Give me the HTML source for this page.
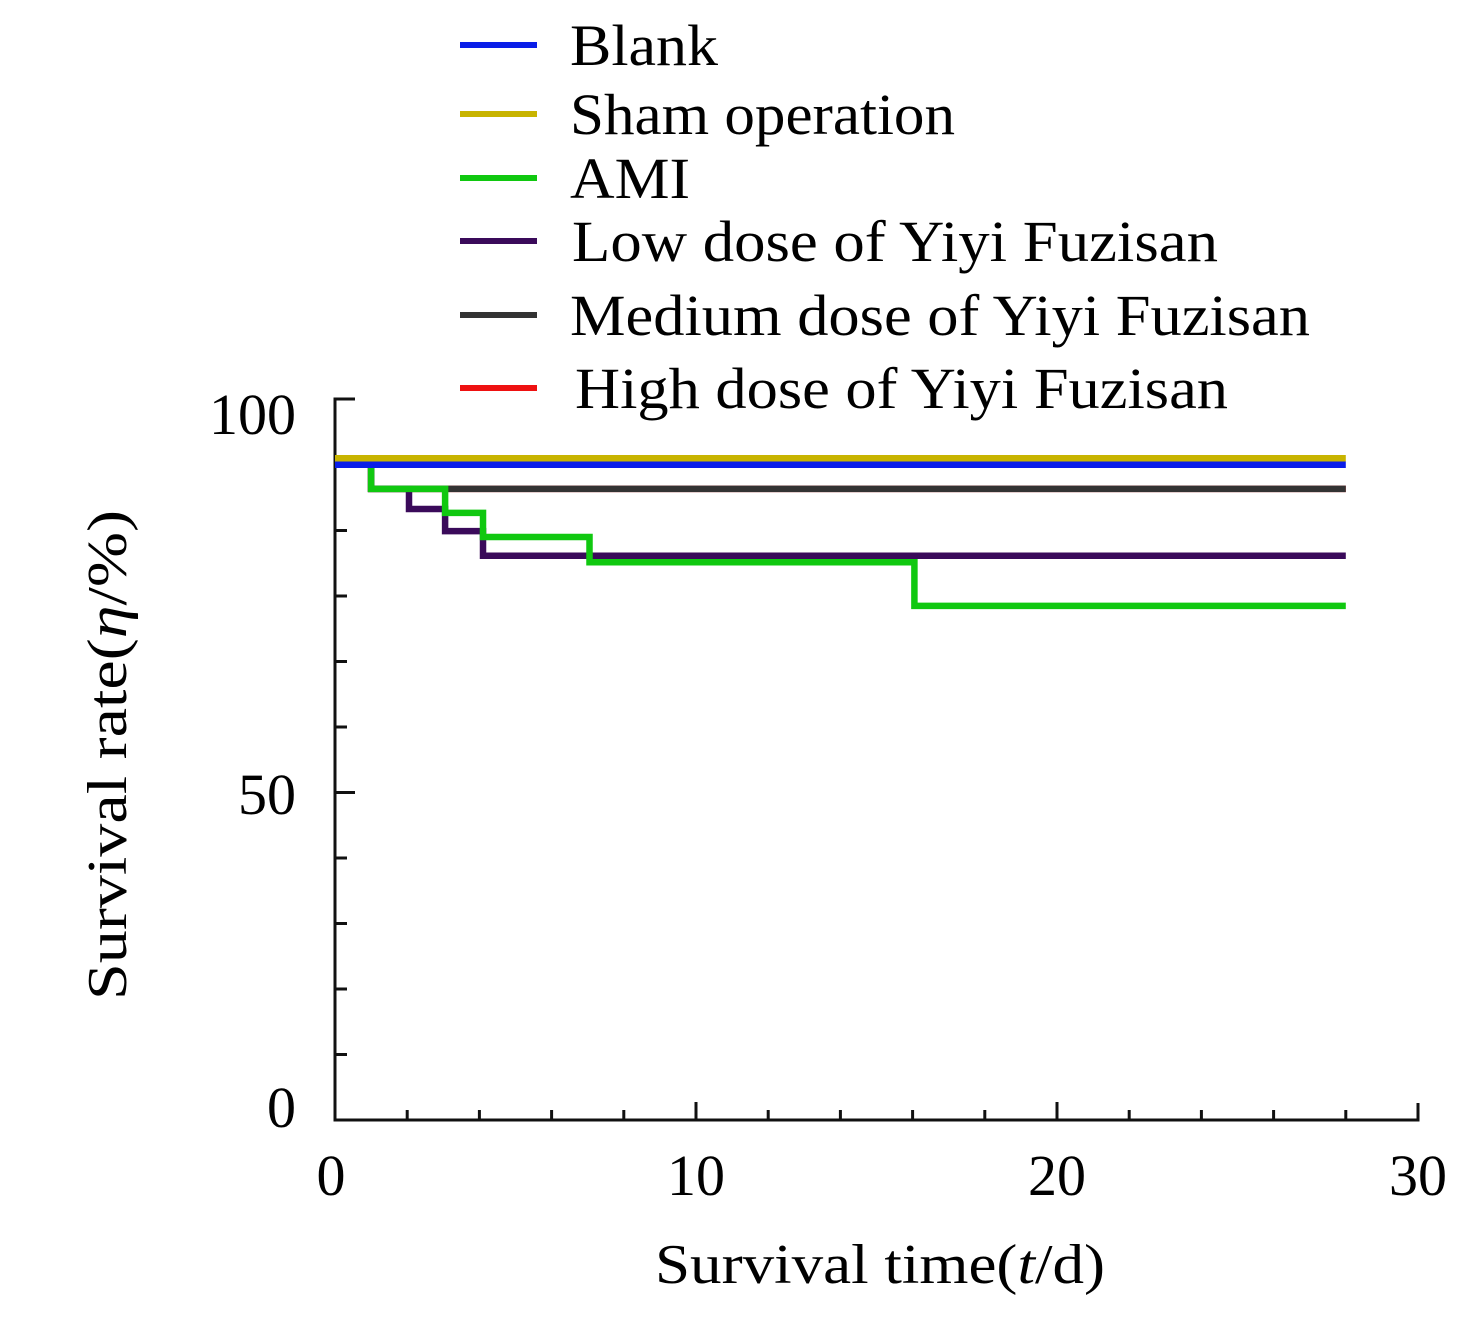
<!DOCTYPE html>
<html><head><meta charset="utf-8"><style>
body{margin:0;background:#fff}
svg{display:block;font-family:"Liberation Serif",serif}
</style></head><body>
<svg id="chart" width="1481" height="1323" viewBox="0 0 1481 1323" xmlns="http://www.w3.org/2000/svg">
<g id="legend"></g>
<g id="axes"></g>
<g id="series"></g>
<text transform="translate(126,755) rotate(-90)" text-anchor="middle" font-size="56" textLength="490" lengthAdjust="spacingAndGlyphs">Survival rate(<tspan font-style="italic">η</tspan>/%)</text>
<text x="880" y="1283" text-anchor="middle" font-size="56" textLength="450" lengthAdjust="spacingAndGlyphs">Survival time(<tspan font-style="italic">t</tspan>/d)</text>
</svg>
<script>
const seriesNames=["Blank","Sham operation","AMI","Low dose of Yiyi Fuzisan","Medium dose of Yiyi Fuzisan","High dose of Yiyi Fuzisan"];
const seriesColors=["#0a1ee8","#c8b400","#10c810","#3a0a5a","#333333","#ee1111"];
const blankT=[0,28], blankV=[100.8,100.8];
const shamT=[0,28], shamV=[101.8,101.8];
const amiT=[0,1,3.05,4.1,7.05,16.05,28], amiV=[100.8,97.1,93.4,89.7,85.8,79.1,79.1];
const lowT=[0,1,2.05,3.05,4.1,28], lowV=[100.8,97.1,94.0,90.6,86.8,86.8];
const medT=[0,1,28], medV=[100.8,97.1,97.1];
const highT=[0,1,28], highV=[100.8,97.1,97.1];
const xTicks=[0,10,20,30];
const yTickLabels=["0","50","100"];
const NS="http://www.w3.org/2000/svg";
const X0=335,XS=36.1,Y0=1120,YS=6.5;
const xs=t=>X0+t*XS, ys=v=>Y0-v*YS;
function mk(tag,attrs,parent){const e=document.createElementNS(NS,tag);for(const k in attrs)e.setAttribute(k,attrs[k]);parent.appendChild(e);return e;}
const axes=document.getElementById('axes');
let a=mk('path',{d:`M355 399 H335 V1120 H1418 V1103`,fill:'none',stroke:'#111','stroke-width':3},axes);


for(let t=2;t<30;t+=2){const tk=mk('line',{x1:xs(t),x2:xs(t),y1:Y0,y2:(t%10===0?Y0-18:Y0-10),stroke:'#111','stroke-width':3},axes);

}
for(let i=1;i<11;i++){const y=Y0-i*65.5;const tk=mk('line',{x1:X0,x2:(i===5?355:347),y1:y,y2:y,stroke:'#111','stroke-width':3},axes);

}
xTicks.forEach(t=>{const tx=mk('text',{x:xs(t)-(t===0?4:0),y:1195,'text-anchor':'middle','font-size':58},axes);tx.textContent=t;

});
const yPos=[1108,795,415];
yTickLabels.forEach((l,i)=>{const tx=mk('text',{x:296,y:yPos[i]+19,'text-anchor':'end','font-size':58},axes);tx.textContent=l;

});
const data=[[highT,highV],[medT,medV],[lowT,lowV],[amiT,amiV],[blankT,blankV],[shamT,shamV]];
const idx=[5,4,3,2,0,1];
const sg=document.getElementById('series');
data.forEach((d,k)=>{const [T,V]=d;let p=`M${xs(T[0])} ${ys(V[0])}`;for(let i=1;i<T.length;i++){p+=` H${xs(T[i])} V${ys(V[i])}`;}
const i=idx[k];
const pe=mk('path',{d:p,fill:'none',stroke:seriesColors[i],'stroke-width':6.5},sg);

});
const lg=document.getElementById('legend');
const ly=[45,114,178,241,315,388];
const lx=[570,570,570,572,570,575];
const lw=[148,385,120,646,740,653];
seriesNames.forEach((n,i)=>{const ln=mk('line',{x1:460,x2:537,y1:ly[i],y2:ly[i],stroke:seriesColors[i],'stroke-width':6},lg);


const tx=mk('text',{x:lx[i],y:ly[i]+20,'font-size':58,textLength:lw[i],lengthAdjust:'spacingAndGlyphs'},lg);tx.textContent=n;

});
</script>
</body></html>
